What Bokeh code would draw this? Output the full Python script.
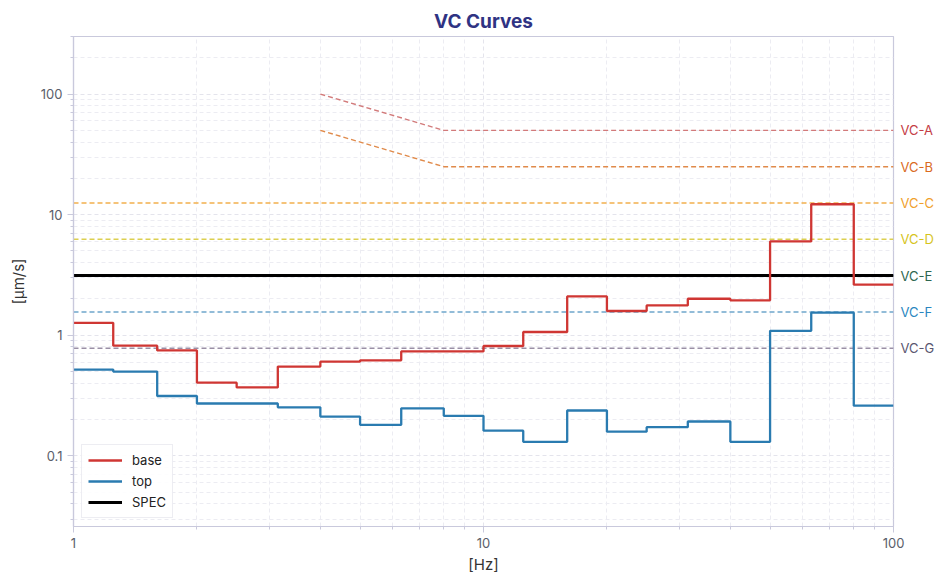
from bokeh.plotting import figure
from bokeh.models import Range1d, FixedTicker, Legend, LegendItem, Label
from bokeh.embed import file_html
from bokeh.resources import INLINE

# ---- data ----
band_edges = [1, 1.25, 1.6, 2, 2.5, 3.15, 4, 5, 6.3, 8, 10, 12.5, 16, 20, 25, 31.5, 40, 50, 63, 80, 100]
base_vals = [1.27, 0.82, 0.75, 0.405, 0.37, 0.55, 0.605, 0.62, 0.735, 0.735, 0.815, 1.065, 2.1, 1.59, 1.77, 2.01, 1.95, 6.0, 12.2, 2.63]
top_vals = [0.52, 0.50, 0.314, 0.272, 0.272, 0.253, 0.212, 0.181, 0.248, 0.215, 0.162, 0.131, 0.238, 0.159, 0.173, 0.193, 0.131, 1.09, 1.54, 0.261]
spec_value = 3.125

vc_names = ["VC-A", "VC-B", "VC-C", "VC-D", "VC-E", "VC-F", "VC-G"]
vc_freqs = [[4, 8, 100], [4, 8, 100], [1, 100], [1, 100], [1, 100], [1, 100], [1, 100]]
vc_values = [[100, 50, 50], [50, 25, 25], [12.5, 12.5], [6.25, 6.25], [3.125, 3.125], [1.5625, 1.5625], [0.78, 0.78]]
vc_line_colors = ["#d27a7a", "#e08a4a", "#f2b04e", "#dccf50", "#3d7a62", "#6fa7cb", "#9a8fa6"]
vc_text_colors = ["#c43c45", "#da6a1e", "#f0a02c", "#d6c41c", "#2e6650", "#2a86c0", "#5a5670"]

x_major = [1, 10, 100]
x_minor = [2, 3, 4, 5, 6, 7, 8, 9, 20, 30, 40, 50, 60, 70, 80, 90]
y_major = [0.1, 1, 10, 100]
y_minor = [0.03, 0.04, 0.05, 0.06, 0.07, 0.08, 0.09, 0.2, 0.3, 0.4, 0.5, 0.6, 0.7, 0.8, 0.9,
           2, 3, 4, 5, 6, 7, 8, 9, 20, 30, 40, 50, 60, 70, 80, 90, 200, 300]
x_labels = {1: "1", 10: "10", 100: "100"}
y_labels = {0.1: "0.1", 1: "1", 10: "10", 100: "100"}

BASE_COLOR = "#cf3633"
TOP_COLOR = "#2a7bb0"
AXIS_COLOR = "#c9c9dc"
FONT = "Inter"

p = figure(
    x_axis_type="log", y_axis_type="log",
    x_range=Range1d(1, 100), y_range=Range1d(0.026, 300),
    frame_width=820, frame_height=490,
    min_border_left=73, min_border_right=40, min_border_top=36, min_border_bottom=54,
    output_backend="svg", toolbar_location=None,
    title="VC Curves",
)
p.background_fill_color = "white"
p.border_fill_color = "white"
p.outline_line_color = AXIS_COLOR
p.outline_line_width = 1.2

p.title.align = "center"
p.title.text_font = FONT
p.title.text_font_size = "19px"
p.title.text_font_style = "bold"
p.title.text_color = "#2f3383"
p.title.standoff = 7

p.xaxis.ticker = FixedTicker(ticks=x_major, minor_ticks=x_minor)
p.yaxis.ticker = FixedTicker(ticks=y_major, minor_ticks=y_minor)
p.xaxis.major_label_overrides = x_labels
p.yaxis.major_label_overrides = y_labels
for ax in (p.xaxis[0], p.yaxis[0]):
    ax.axis_line_color = AXIS_COLOR
    ax.axis_line_width = 1.2
    ax.major_tick_line_color = AXIS_COLOR
    ax.minor_tick_line_color = AXIS_COLOR
    ax.major_tick_out = 6
    ax.major_tick_in = 0
    ax.minor_tick_out = 3
    ax.minor_tick_in = 0
    ax.major_label_text_font = FONT
    ax.major_label_text_font_size = "13px"
    ax.major_label_text_color = "#5a5e6a"
    ax.axis_label_text_font = FONT
    ax.axis_label_text_font_size = "15px"
    ax.axis_label_text_font_style = "normal"
    ax.axis_label_text_color = "#333333"
p.xaxis.axis_label = "[Hz]"
p.yaxis.axis_label = "[μm/s]"
p.xaxis.axis_label_standoff = 4
p.yaxis.axis_label_standoff = 10

for g in (p.xgrid[0], p.ygrid[0]):
    g.grid_line_color = "#e4e4ec"
    g.grid_line_dash = "4 3"
    g.grid_line_width = 1
    g.minor_grid_line_color = "#ececf2"
    g.minor_grid_line_dash = "4 3"
    g.minor_grid_line_width = 1

# VC curves with labels in the right margin
for name, fx, fy, lc, tc in zip(vc_names, vc_freqs, vc_values, vc_line_colors, vc_text_colors):
    p.line(fx, fy, line_color=lc, line_dash="5 3", line_width=1.4)
    lab = Label(x=fx[-1], y=fy[-1], x_offset=7, text=name, text_color=tc, text_font=FONT,
                text_font_size="13px", text_baseline="middle", text_align="left")
    p.add_layout(lab, "right")

# spec
spec_r = p.line([band_edges[0], band_edges[-1]], [spec_value, spec_value], line_color="black", line_width=3)

# step curves
base_r = p.step(band_edges, base_vals + [base_vals[-1]], mode="after", line_color=BASE_COLOR, line_width=2.3)
top_r = p.step(band_edges, top_vals + [top_vals[-1]], mode="after", line_color=TOP_COLOR, line_width=2.3)

legend = Legend(items=[
    LegendItem(label="base", renderers=[base_r]),
    LegendItem(label="top", renderers=[top_r]),
    LegendItem(label="SPEC", renderers=[spec_r]),
], location="bottom_left")
legend.label_text_font = FONT
legend.label_text_font_size = "13px"
legend.label_text_color = "#222222"
legend.border_line_color = "#dcdce6"
legend.border_line_width = 1.2
legend.background_fill_alpha = 0.9
legend.glyph_width = 34
legend.glyph_height = 18
legend.label_height = 18
legend.spacing = 3
legend.padding = 6
legend.margin = 8
legend.label_standoff = 10
p.add_layout(legend)

open("out.html", "w").write(file_html(p, INLINE))
